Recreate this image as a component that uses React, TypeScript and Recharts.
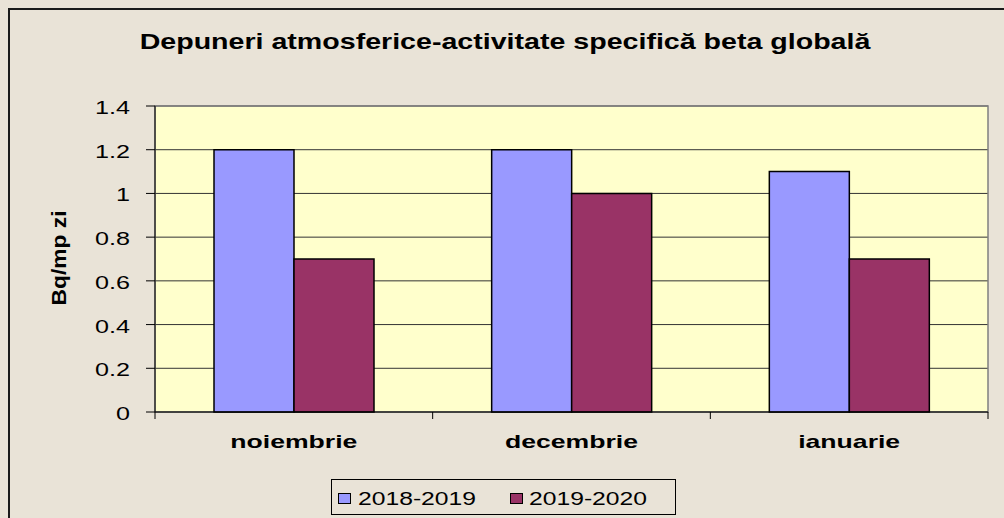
import { BarChart, Bar, XAxis, YAxis, CartesianGrid, ReferenceArea } from "recharts";

const luni = ["noiembrie", "decembrie", "ianuarie"];
const serie2018 = [1.2, 1.2, 1.1];
const serie2019 = [0.7, 1.0, 0.7];
const yTicks = [0, 0.2, 0.4, 0.6, 0.8, 1, 1.2, 1.4];
const numeSerii = ["2018-2019", "2019-2020"];

const culori = ["#9999ff", "#993366"];
const fundal = "#e9e3d7";
const font = "'Liberation Sans', Arial, sans-serif";

const date = luni.map((luna, i) => ({ luna, a: serie2018[i], b: serie2019[i] }));

function YTick(props: any) {
  const { x, y, payload } = props;
  return (
    <text
      transform={`translate(${x},${y + 8}) scale(1.4,1)`}
      textAnchor="end"
      fontSize={18}
      fontFamily={font}
      fill="#000"
    >
      {payload.value}
    </text>
  );
}

function XTick(props: any) {
  const { x, y, payload, index, width, visibleTicksCount } = props;
  const half = payload.offset || width / visibleTicksCount / 2;
  return (
    <g>
      {index === 0 && <line x1={x - half} x2={x - half} y1={y} y2={y + 7} stroke="#000" />}
      <line x1={x + half} x2={x + half} y1={y} y2={y + 7} stroke="#000" />
      <text
        transform={`translate(${x},${y + 36}) scale(1.4,1)`}
        textAnchor="middle"
        fontSize={19}
        fontWeight="bold"
        fontFamily={font}
        fill="#000"
      >
        {payload.value}
      </text>
    </g>
  );
}

export default function App() {
  return (
    <div
      style={{
        position: "absolute",
        left: 0,
        top: 0,
        width: 1004,
        height: 518,
        overflow: "hidden",
        background: fundal,
      }}
    >
      <div
        style={{
          position: "absolute",
          left: 8,
          top: 8,
          width: 1100,
          height: 600,
          borderTop: "2px solid #1a1a1a",
          borderLeft: "2px solid #1a1a1a",
        }}
      />
      <BarChart
        width={1004}
        height={518}
        data={date}
        margin={{ top: 106, right: 16, bottom: 66, left: 0 }}
        barGap={0}
        style={{ position: "absolute", left: 0, top: 0 }}
      >
        <CartesianGrid vertical={false} stroke="#333" fill="#ffffcc" fillOpacity={1} />
        <ReferenceArea y1={0} y2={1.4} fill="none" stroke="#808080" strokeWidth={1.5} />
        <XAxis
          dataKey="luna"
          height={40}
          axisLine={{ stroke: "#000" }}
          tickLine={false}
          tickSize={0}
          tickMargin={0}
          tick={<XTick />}
          interval={0}
        />
        <YAxis
          width={155}
          domain={[0, 1.4]}
          ticks={yTicks}
          axisLine={{ stroke: "#000" }}
          tickLine={{ stroke: "#000" }}
          tickSize={9}
          tickMargin={16}
          tick={<YTick />}
          interval={0}
        />
        <Bar dataKey="a" name={numeSerii[0]} fill={culori[0]} stroke="#000" strokeWidth={1.5} barSize={80} isAnimationActive={false} />
        <Bar dataKey="b" name={numeSerii[1]} fill={culori[1]} stroke="#000" strokeWidth={1.5} barSize={80} isAnimationActive={false} />
      </BarChart>
      <svg
        width={1004}
        height={518}
        style={{ position: "absolute", left: 0, top: 0, pointerEvents: "none" }}
      >
        <text
          transform="translate(505,49) scale(1.3,1)"
          textAnchor="middle"
          fontSize={22}
          fontWeight="bold"
          fontFamily={font}
          fill="#000"
        >
          Depuneri atmosferice-activitate specifică beta globală
        </text>
        <text
          transform="translate(59,258) rotate(-90) scale(1.14,1)"
          textAnchor="middle"
          dominantBaseline="central"
          fontSize={20}
          fontWeight="bold"
          fontFamily={font}
          fill="#000"
        >
          Bq/mp zi
        </text>
        <rect x={331.5} y={479.5} width={344} height={35} fill="none" stroke="#000" />
        {numeSerii.map((nume, i) => (
          <g key={nume}>
            <rect x={[338, 510][i] + 0.5} y={493.5} width={12} height={10} fill={culori[i]} stroke="#000" />
            <text
              transform={`translate(${[358, 529][i]},505) scale(1.3,1)`}
              fontSize={19}
              fontFamily={font}
              fill="#000"
            >
              {nume}
            </text>
          </g>
        ))}
      </svg>
    </div>
  );
}
